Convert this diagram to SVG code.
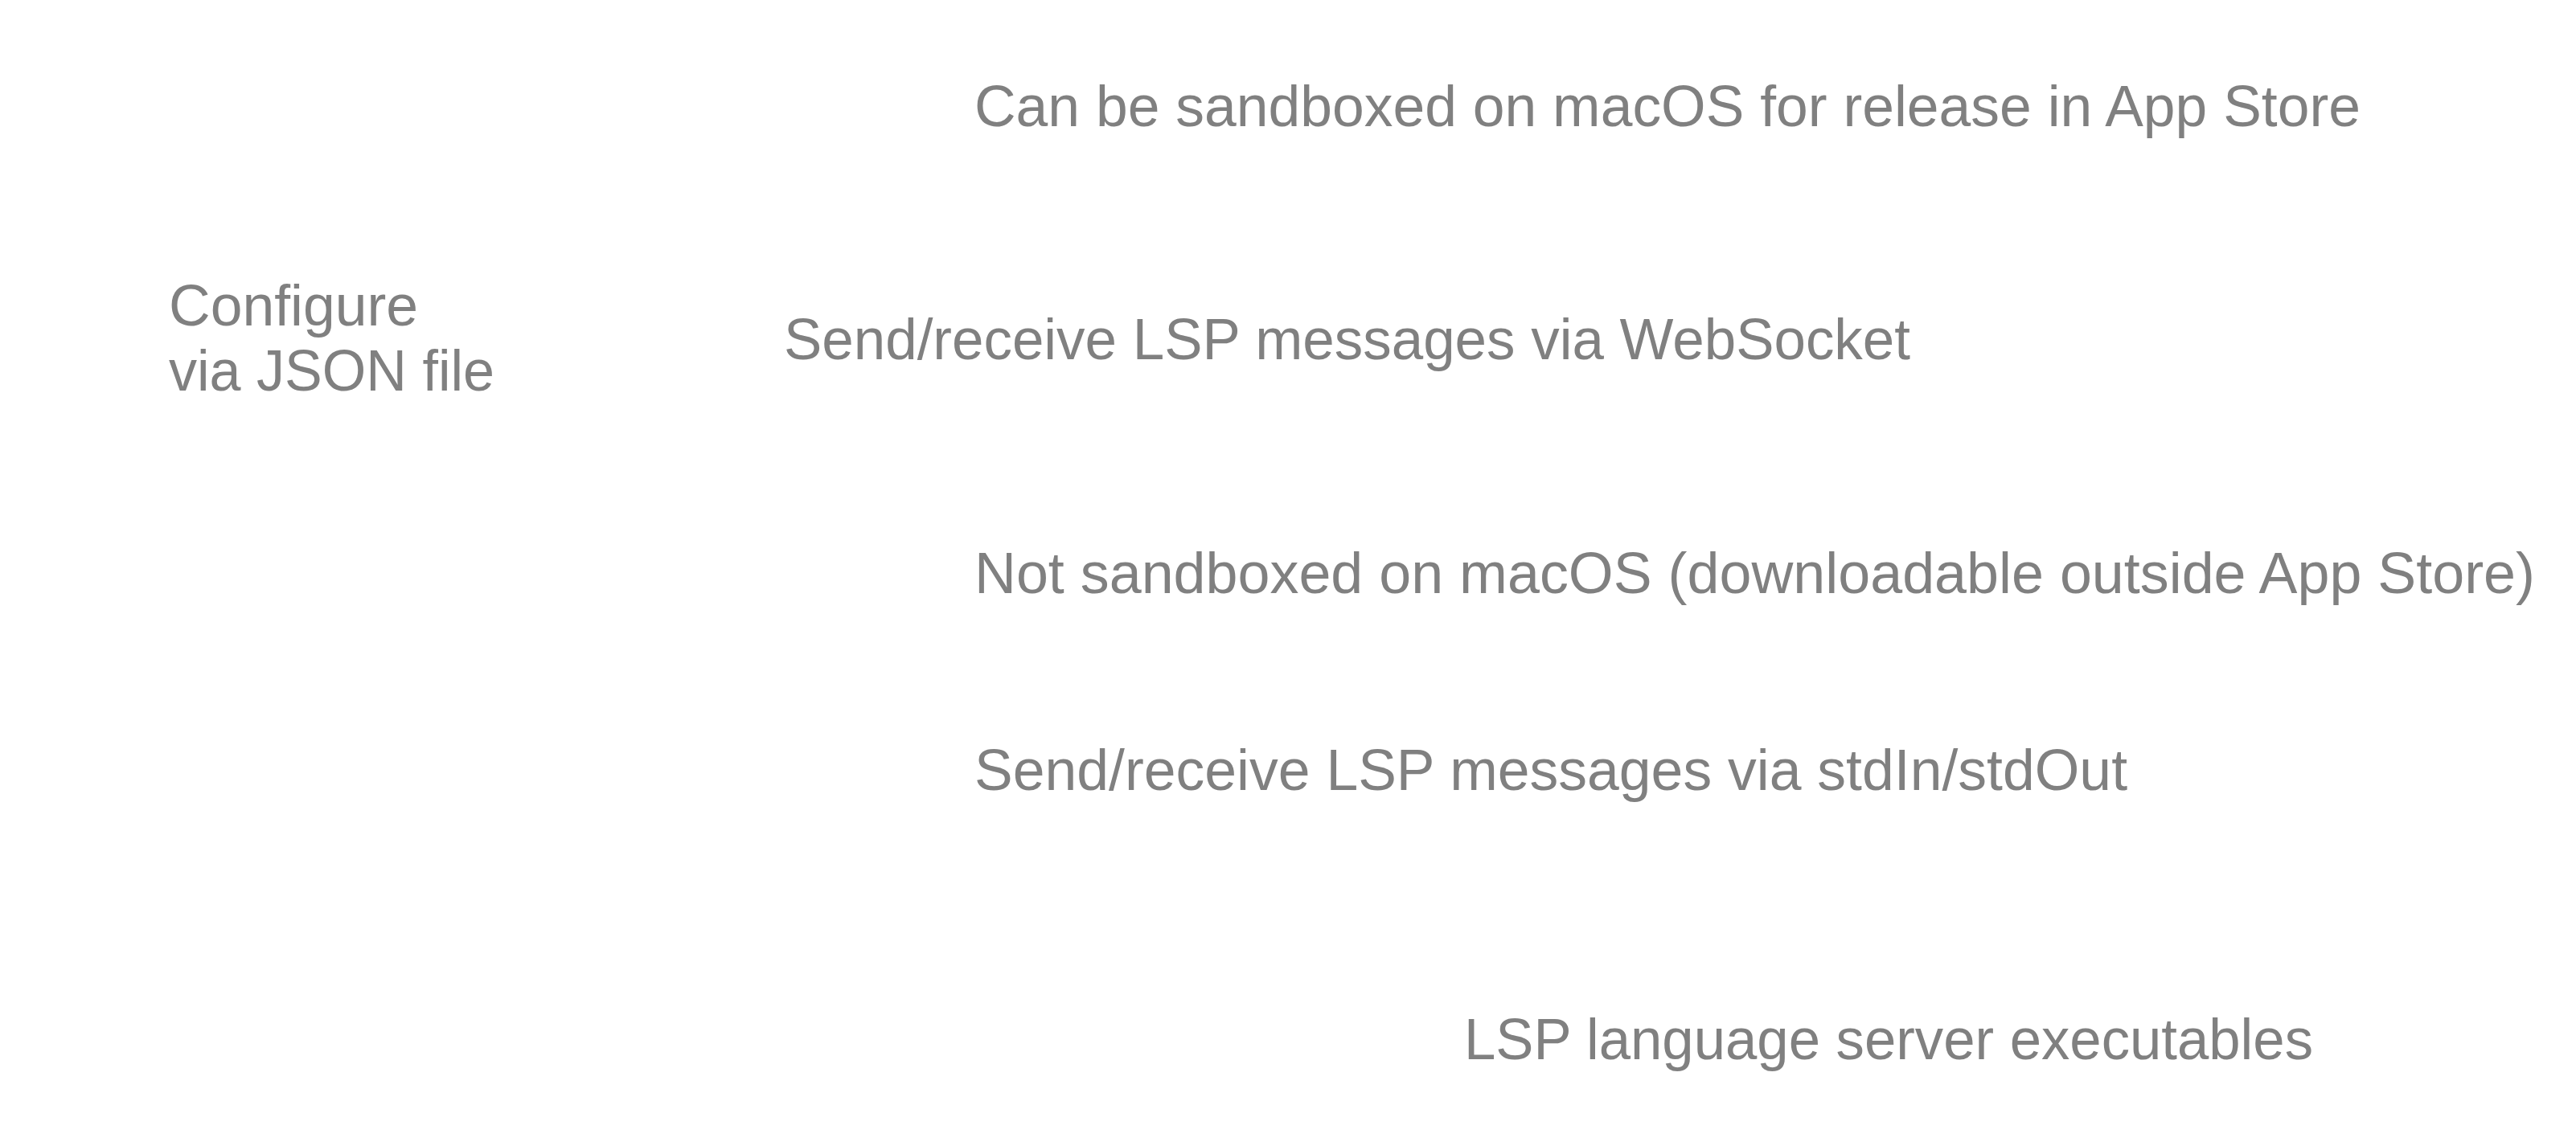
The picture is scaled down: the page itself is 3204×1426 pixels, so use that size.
<svg xmlns="http://www.w3.org/2000/svg" width="3204" height="1426" viewBox="0 0 3204 1426">
<style>
.t{font-family:"Liberation Sans",Arial,Helvetica,sans-serif;font-size:71.5px;fill:#808080;}
</style>
<rect width="3204" height="1426" fill="#ffffff"/>
<g id="sandboxed-appstore"><text class="t" x="1212" y="157" textLength="1724" lengthAdjust="spacingAndGlyphs">Can be sandboxed on macOS for release in App Store</text></g>
<g id="configure-json"><text class="t" x="210" y="405">Configure</text><text class="t" x="210" y="486" textLength="405" lengthAdjust="spacingAndGlyphs">via JSON file</text></g>
<g id="websocket"><text class="t" x="975" y="447" textLength="1401" lengthAdjust="spacingAndGlyphs">Send/receive LSP messages via WebSocket</text></g>
<g id="not-sandboxed"><text class="t" x="1212" y="738" textLength="1941" lengthAdjust="spacingAndGlyphs">Not sandboxed on macOS (downloadable outside App Store)</text></g>
<g id="stdio"><text class="t" x="1212" y="983" textLength="1434" lengthAdjust="spacingAndGlyphs">Send/receive LSP messages via stdIn/stdOut</text></g>
<g id="lsp-executables"><text class="t" x="1821" y="1318" textLength="1056" lengthAdjust="spacingAndGlyphs">LSP language server executables</text></g>
</svg>
